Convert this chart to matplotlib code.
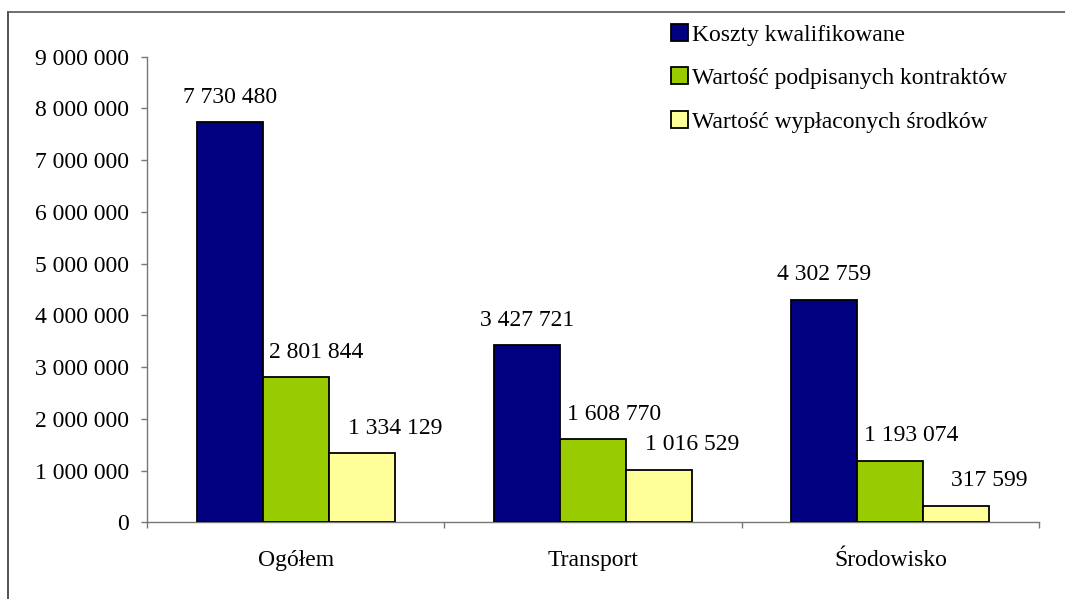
import matplotlib
matplotlib.use("Agg")
import matplotlib.pyplot as plt
from matplotlib.lines import Line2D
import numpy as np

categories = ["Ogółem", "Transport", "Środowisko"]
series_names = ["Koszty kwalifikowane", "Wartość podpisanych kontraktów", "Wartość wypłaconych środków"]
koszty = [7730480, 3427721, 4302759]
kontrakty = [2801844, 1608770, 1193074]
wyplacone = [1334129, 1016529, 317599]
yticks = [0, 1000000, 2000000, 3000000, 4000000, 5000000, 6000000, 7000000, 8000000, 9000000]

colors = ["#000080", "#99CC00", "#FFFF99"]
label_dx = [0, 15, 24]  # points

plt.rcParams['font.family'] = ['Liberation Serif', 'DejaVu Serif']
FS = 17

fig = plt.figure(figsize=(10.65, 5.99), dpi=100)
ax = fig.add_axes([147/1065, (599-522.3)/599, (1039-147)/1065, (522.3-56.7)/599])

def fmt(v):
    return f"{v:,.0f}".replace(",", " ")

x = np.arange(len(categories))
w = 0.222
handles = []
for i, (vals, col, name) in enumerate(zip([koszty, kontrakty, wyplacone], colors, series_names)):
    pos = x + (i - 1) * w
    bars = ax.bar(pos, vals, width=w, color=col, edgecolor="black", linewidth=1.3, label=name, zorder=3)
    handles.append(bars)
    for p, v in zip(pos, vals):
        ax.annotate(fmt(v), xy=(p, v), xytext=(label_dx[i], 14), textcoords="offset points",
                    ha="center", va="baseline", fontsize=FS, color="black")

ax.set_xlim(-0.5, 2.5)
ax.set_ylim(0, 9000000)
ax.set_yticks(yticks)
ax.set_yticklabels([fmt(v) for v in yticks], fontsize=FS)
ax.set_xticks([-0.5, 0.5, 1.5, 2.5])
ax.set_xticklabels([])
ax.set_xticks(x, minor=True)
ax.set_xticklabels(categories, minor=True, fontsize=FS)
ax.tick_params(axis="x", which="major", length=4, direction="out", color="#777777", width=1)
ax.tick_params(axis="x", which="minor", length=0, pad=20)
ax.tick_params(axis="y", length=4, direction="out", color="#777777", width=1, pad=9)

for s in ["top", "right"]:
    ax.spines[s].set_visible(False)
for s in ["left", "bottom"]:
    ax.spines[s].set_color("#777777")
    ax.spines[s].set_linewidth(1)

fig.legend(handles=handles, labels=series_names, loc="upper left",
           bbox_to_anchor=(671/1065, 1 - 24/599), frameon=False, fontsize=FS,
           handlelength=0.7, handleheight=0.7, handletextpad=0.2, labelspacing=0.93,
           borderpad=0, borderaxespad=0)

# outer frame lines
fig.add_artist(Line2D([8/1065, 8/1065], [0, 1 - 12/599], transform=fig.transFigure, color="#333333", lw=1.2))
fig.add_artist(Line2D([8/1065, 1], [1 - 12/599, 1 - 12/599], transform=fig.transFigure, color="#555555", lw=1.2))

fig.savefig("out.png", dpi=100)
